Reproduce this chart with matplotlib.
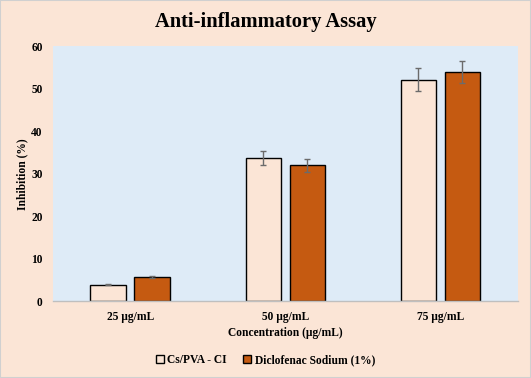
import matplotlib
matplotlib.use("Agg")
import matplotlib.pyplot as plt
import numpy as np
from matplotlib.patches import Rectangle

categories = ["25 µg/mL", "50 µg/mL", "75 µg/mL"]
cs_pva = [3.9, 33.7, 52.2]
cs_pva_err = [0.1, 1.6, 2.7]
diclofenac = [5.8, 32.0, 54.0]
diclofenac_err = [0.3, 1.5, 2.7]
series_labels = ["Cs/PVA - CI", "Diclofenac Sodium (1%)"]

PAGE = "#FBE5D6"
PLOT_BG = "#DEEBF7"
RUST = "#C55A11"

plt.rcParams.update({"font.family": "Liberation Serif", "font.weight": "bold"})

fig = plt.figure(figsize=(5.31, 3.78), dpi=100, facecolor=PAGE)
fig.patches.append(Rectangle((0, 0), 1, 1, transform=fig.transFigure,
                             facecolor="none", edgecolor="#d0d0d0", linewidth=1.5))
ax = fig.add_axes([0.099, 0.2024, 0.8766, 0.6746], facecolor=PLOT_BG)

x = np.arange(len(categories))
offset = 0.142
width = 0.229
err_kw = dict(ecolor="#6b6b6b", elinewidth=1.0, capsize=2.5, capthick=1.0)
ax.bar(x - offset, cs_pva, width, yerr=cs_pva_err, color=PAGE, edgecolor="black",
       linewidth=1.0, label=series_labels[0], error_kw=err_kw, zorder=2)
ax.bar(x + offset, diclofenac, width, yerr=diclofenac_err, color=RUST, edgecolor="black",
       linewidth=1.0, label=series_labels[1], error_kw=err_kw, zorder=2)

ax.set_xlim(-0.5, 2.5)
ax.set_ylim(0, 60)
ax.set_yticks(range(0, 61, 10))
ax.set_xticks(x)
ax.set_xticklabels(categories)
ax.tick_params(length=0, labelsize=8.3, pad=7)
ax.tick_params(axis="y", pad=7)
for side in ("top", "right", "left"):
    ax.spines[side].set_visible(False)
ax.spines["bottom"].set_color("#bfbfbf")
ax.spines["bottom"].set_linewidth(1.0)
ax.spines["bottom"].set_zorder(3)

ax.set_xlabel("Concentration (µg/mL)", fontsize=8.3, fontweight="bold", labelpad=3)
ax.set_ylabel("Inhibition (%)", fontsize=8.3, fontweight="bold", labelpad=2)
fig.text(0.5, 0.942, "Anti-inflammatory Assay", ha="center", va="center",
         fontsize=14.8, fontweight="bold")

fig.legend(loc="center", bbox_to_anchor=(0.5, 0.048), ncol=2, frameon=False,
           fontsize=8.3, handlelength=0.7, handleheight=0.7, handletextpad=0.3,
           columnspacing=1.4)

fig.savefig("out.png", dpi=100, facecolor=PAGE)
